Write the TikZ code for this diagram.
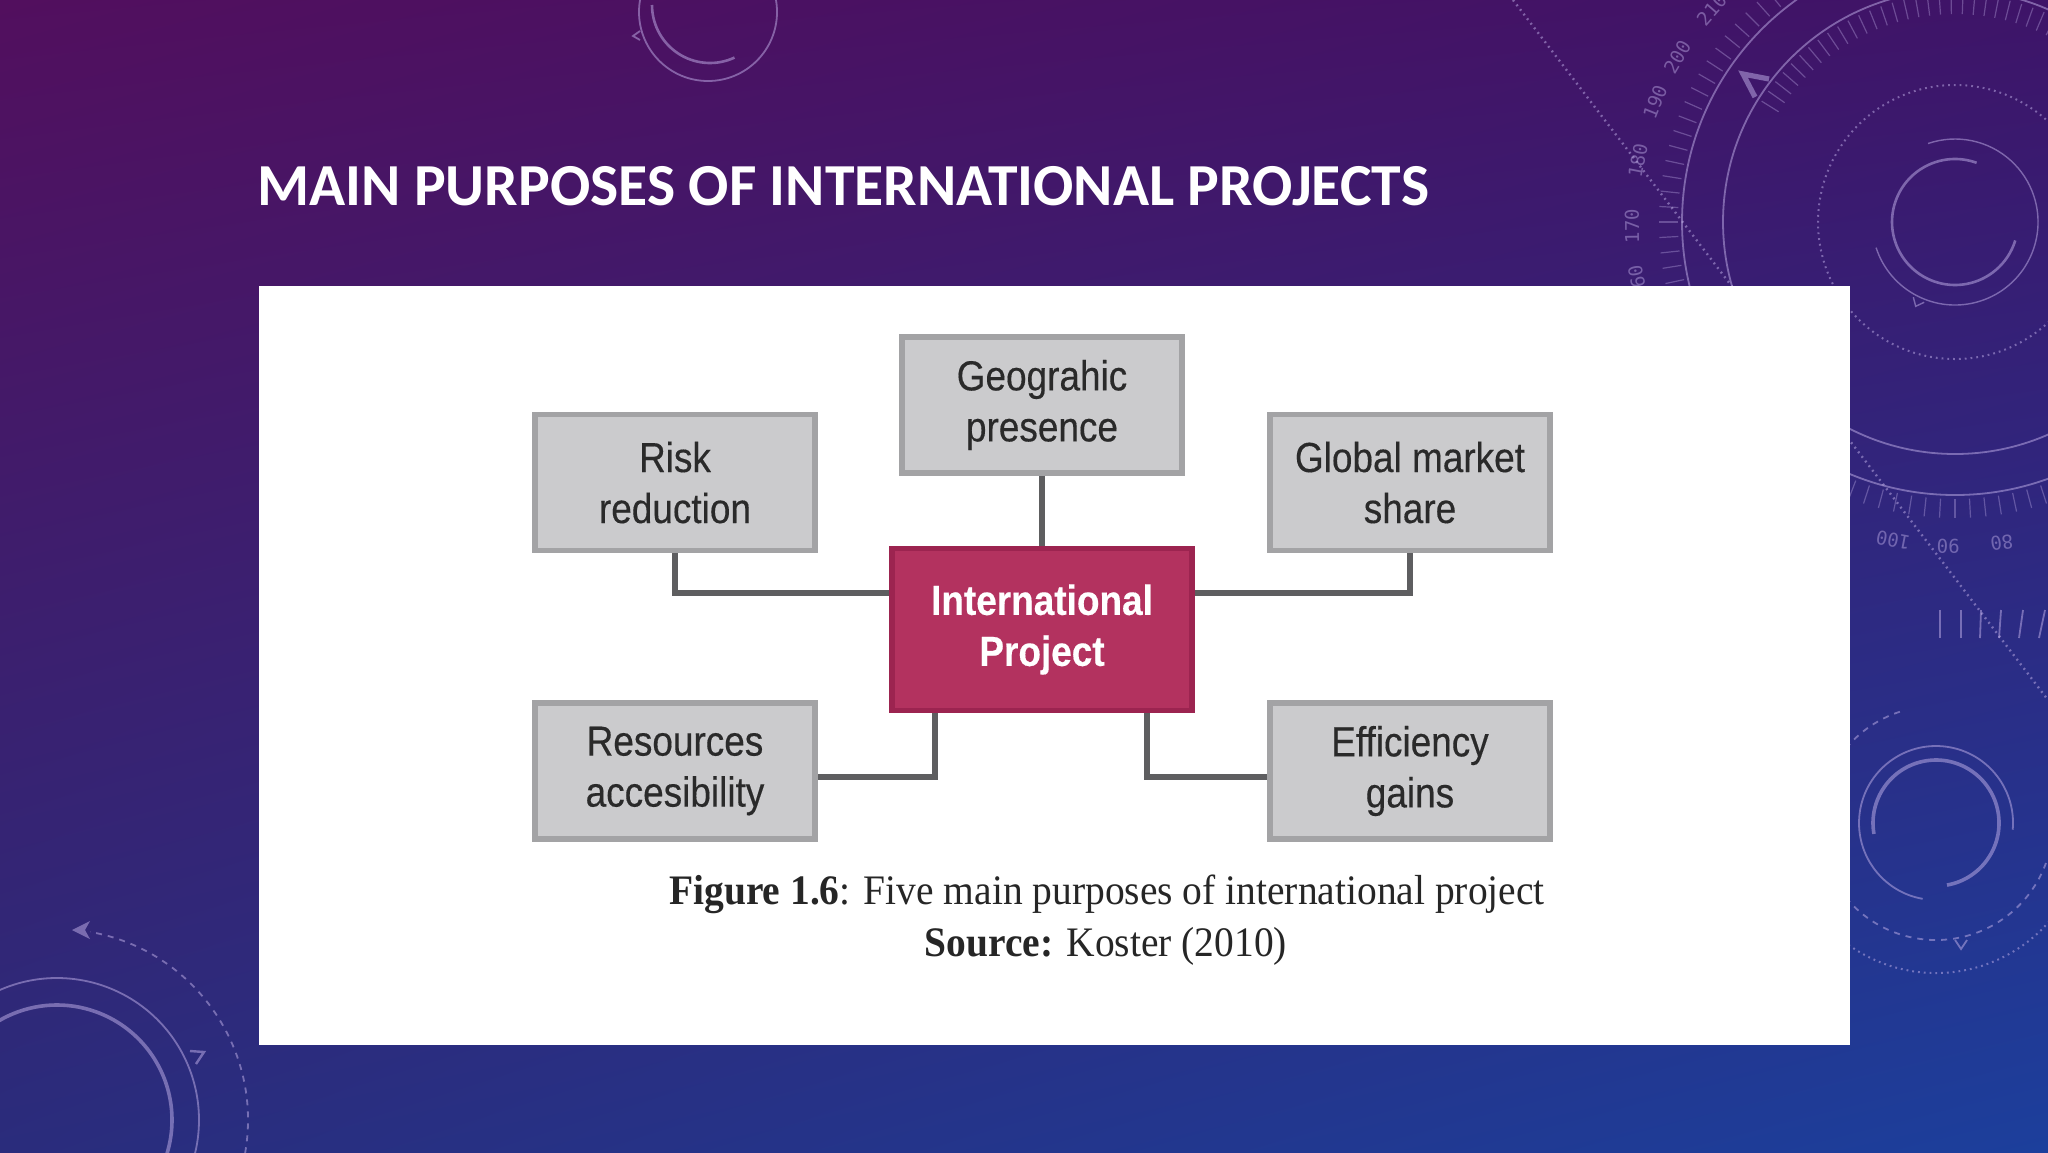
\documentclass[tikz,border=0pt]{standalone}
\usepackage{fontspec}
\usetikzlibrary{calc,shadings}
\newfontfamily\titlefont{Carlito}
\newfontfamily\boxfont[FakeStretch=0.88,FakeBold=0.3]{Liberation Sans}
\newfontfamily\capfont[FakeStretch=0.94]{Liberation Serif}
\newfontfamily\decofont{DejaVu Sans Mono}
\definecolor{bgA}{HTML}{520F5E}
\definecolor{bgB}{HTML}{3E1468}
\definecolor{bgC}{HTML}{2A2C7C}
\definecolor{bgD}{HTML}{1C3F9C}
\definecolor{boxfill}{HTML}{CBCBCD}
\definecolor{boxline}{HTML}{A3A3A5}
\definecolor{boxtext}{HTML}{2A2A2A}
\definecolor{hubfill}{HTML}{B3325F}
\definecolor{hubline}{HTML}{9C2450}
\definecolor{connc}{HTML}{5E5E60}
\definecolor{decoc}{HTML}{C3B2EA}
\begin{document}
\begin{tikzpicture}[x=0.5pt,y=-0.5pt,
  box/.style={draw=boxline, fill=boxfill, line width=2.8pt, minimum width=140pt,
    minimum height=68pt, inner sep=0pt, align=center, text=boxtext,
    font=\boxfont\fontsize{21}{25.5}\selectfont},
  hub/.style={box, fill=hubfill, draw=hubline, minimum width=150pt, minimum height=81pt,
    text=white, font=\boxfont\bfseries\fontsize{21}{25.5}\selectfont},
  conn/.style={draw=connc, line width=2.6pt},
  deco/.style={draw=decoc, line width=0.9pt, opacity=0.5},
  decob/.style={draw=decoc, line width=1.8pt, opacity=0.5},
  decot/.style={draw=decoc, line width=0.6pt, opacity=0.35},
  nums/.style={text=decoc, opacity=0.45, font=\decofont\fontsize{9.5}{11}\selectfont, inner sep=0pt}]
\useasboundingbox (0,0) rectangle (2048,1152);
\shade[upper left=bgA, upper right=bgB, lower left=bgC, lower right=bgD] (0,0) rectangle (2048,1152);

% decorations top right
\begin{scope}[shift={(1955,222)}, yscale=-1]
  \draw[deco, line width=1.3pt] (70:63) arc[start angle=70, end angle=343, radius=63];
  \draw[deco, line width=0.7pt] (198:83) arc[start angle=198, end angle=469, radius=83];
  \draw[deco, dotted, line width=1pt] (0,0) circle[radius=137];
  \draw[deco] (0,0) circle[radius=232];
  \draw[deco] (0,0) circle[radius=273];
  \foreach \a in {96,99,...,290} \draw[decot] (\a:277) -- (\a:296);
  \foreach \a in {10,13,...,150} \draw[decot] (\a:208) -- (\a:228);
  \draw[deco, line width=0.7pt] (-111:86) -- (-115:93) -- (-119:86);
  \node[nums, rotate=90.7] at (180.7:323) {170};
  \node[nums, rotate=79] at (169:323) {180};
  \node[nums, rotate=68.2] at (158.2:323) {190};
  \node[nums, rotate=59.3] at (149.3:323) {200};
  \node[nums, rotate=48.9] at (138.9:323) {210};
  \node[nums, rotate=100.7] at (190.7:323) {160};
  \node[nums, rotate=169] at (-101:324) {100};
  \node[nums, rotate=178.8] at (-91.2:324) {90};
  \node[nums, rotate=188.3] at (-81.7:324) {80};
\end{scope}
\draw[deco, line width=2.6pt, line join=miter] (1769,79) -- (1743,74) -- (1755,97);
\draw[deco, dotted, line width=1.2pt] (1513,0) -- (2048,700);

% top center
\begin{scope}[shift={(710,5)}, yscale=-1]
  \draw[deco, line width=1.3pt] (180:58) arc[start angle=180, end angle=295, radius=58];
\end{scope}
\draw[deco] (708,12) circle[radius=69];
\draw[deco] (640,31) -- (633,36) -- (640,40);

% lower right
\begin{scope}[shift={(1936,823)}, yscale=-1]
  \draw[decob] (-80:63) arc[start angle=-80, end angle=190, radius=63];
  \draw[deco] (-5:77) arc[start angle=-5, end angle=260, radius=77];
  \draw[deco, dashed] (108:117) arc[start angle=108, end angle=340, radius=117];
  \draw[deco, dotted, line width=1pt] (190:150) arc[start angle=190, end angle=330, radius=150];
\end{scope}
\draw[deco] (1955,940) -- (1961,949) -- (1967,940);
\foreach \x/\s in {1940/0,1961/0,1981/1,2001/2,2023/4,2045/6}
  \draw[deco] (\x,610) -- (\x-\s,638);

% bottom left
\begin{scope}[shift={(57,1120)}, yscale=-1]
  \draw[decob] (160:115) arc[start angle=160, end angle=-40, radius=115];
  \draw[deco] (175:142) arc[start angle=175, end angle=-20, radius=142];
  \draw[deco, dashed] (-10:191) arc[start angle=-10, end angle=80, radius=191];
\end{scope}
\fill[decoc, opacity=0.5] (72,930) -- (90,921) -- (85,930) -- (90,939) -- cycle;
\draw[deco, line width=1.2pt] (190,1051) -- (204,1052) -- (196,1064);

% title
\node[anchor=base west, inner sep=0pt, text=white, font=\titlefont\bfseries\fontsize{29.8}{34}\selectfont]
  (title) at (257,205) {MAIN PURPOSES OF INTERNATIONAL PROJECTS};

% white panel
\fill[white] (259,286) rectangle (1850,1045);

% diagram
\node[box] (geo) at (1042,405) {Geograhic\\presence};
\node[box] (risk) at (675,482.5) {Risk\\reduction};
\node[box] (glob) at (1410,482.5) {Global market\\share};
\node[hub] (intl) at (1042,629.5) {International\\Project};
\node[box] (res) at (675,771) {Resources\\accesibility};
\node[box] (eff) at (1410,771) {Efficiency\\gains};

\draw[conn] (geo.south) -- (intl.north);
\draw[conn] (risk.south) |- ($(intl.west)+(0,-36.5)$);
\draw[conn] (glob.south) |- ($(intl.east)+(0,-36.5)$);
\draw[conn] ($(intl.south)+(-107,0)$) |- ($(res.east)+(0,6)$);
\draw[conn] ($(intl.south)+(105,0)$) |- ($(eff.west)+(0,6)$);

% caption
\node[anchor=base, inner sep=0pt, text=black!85, font=\capfont\fontsize{21}{26}\selectfont]
  (cap1) at (1107,904) {\textbf{Figure 1.6}: Five main purposes of international project};
\node[anchor=base, inner sep=0pt, text=black!85, font=\capfont\fontsize{21}{26}\selectfont]
  (cap2) at (1106,956) {\textbf{Source:} Koster (2010)};
\end{tikzpicture}
\end{document}
